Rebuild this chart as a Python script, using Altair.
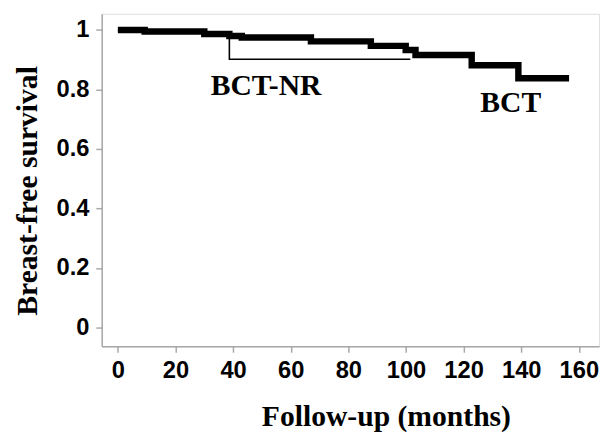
import altair as alt
import pandas as pd

# BCT (thick) Kaplan-Meier curve
bct_months = [0, 9.3, 30, 38.7, 43, 67, 87.8, 99.9, 103.3, 122.8, 139, 156.6]
bct_surv = [1.0, 0.995, 0.987, 0.980, 0.975, 0.962, 0.947, 0.933, 0.916, 0.882, 0.838, 0.838]

# BCT-NR (thin) curve
nr_months = [0, 9.3, 30, 38.7, 101.5]
nr_surv = [1.0, 0.995, 0.987, 0.902, 0.902]

# curve labels
label_text = ["BCT-NR", "BCT"]
label_month = [32.2, 125.8]
label_surv = [0.782, 0.726]

x_ticks = [0, 10, 20, 30, 40, 50, 60, 70, 80, 90, 100, 110, 120, 130, 140, 150, 160]
y_ticks = [0, 0.1, 0.2, 0.3, 0.4, 0.5, 0.6, 0.7, 0.8, 0.9, 1.0]

bct = pd.DataFrame({"month": bct_months, "surv": bct_surv})
nr = pd.DataFrame({"month": nr_months, "surv": nr_surv})
labels = pd.DataFrame({"label": label_text, "month": label_month, "surv": label_surv})

GRAY = "#a8a8a8"
LABEL_FONT = "Liberation Sans"
TITLE_FONT = "Liberation Serif"

x_axis = alt.Axis(
    values=x_ticks,
    labelExpr="datum.value % 20 === 0 ? datum.label : ''",
    format="d",
    tickSize={"condition": {"test": "datum.value % 20 === 0", "value": 6}, "value": 3},
    tickColor=GRAY,
    tickWidth=1.5,
    domainColor=GRAY,
    domainWidth=1.5,
    labelFont=LABEL_FONT,
    labelFontSize=24,
    labelFontWeight="bold",
    labelColor="black",
    labelPadding=7,
    labelFlush=False,
    labelOverlap=False,
    grid=False,
    title="Follow-up (months)",
    titleFont=TITLE_FONT,
    titleFontSize=30,
    titleFontWeight="bold",
    titleColor="black",
    titleX=288,
    titleY=80,
    titleAlign="center",
    titleBaseline="alphabetic",
)

y_axis = alt.Axis(
    values=y_ticks,
    labelExpr="round(datum.value * 10) % 2 === 0 ? datum.label : ''",
    format="~g",
    tickSize={"condition": {"test": "round(datum.value * 10) % 2 === 0", "value": 6}, "value": 3},
    tickColor=GRAY,
    tickWidth=1.5,
    domainColor=GRAY,
    domainWidth=1.5,
    labelFont=LABEL_FONT,
    labelFontSize=24,
    labelFontWeight="bold",
    labelColor="black",
    labelPadding=7,
    labelFlush=False,
    labelOverlap=False,
    grid=False,
    title="Breast-free survival",
    titleFont=TITLE_FONT,
    titleFontSize=30,
    titleFontWeight="bold",
    titleColor="black",
    titleAngle=270,
    titleX=-66,
    titleY=179,
    titleAlign="center",
    titleBaseline="alphabetic",
)

x_scale = alt.Scale(domain=[-5.6, 167], nice=False, zero=False)
y_scale = alt.Scale(domain=[-0.063, 1.0547], nice=False, zero=False)

thick = alt.Chart(bct).mark_line(
    interpolate="step-after", color="black", strokeWidth=6.5,
    strokeCap="butt", strokeJoin="miter"
).encode(
    x=alt.X("month:Q", scale=x_scale, axis=x_axis),
    y=alt.Y("surv:Q", scale=y_scale, axis=y_axis),
)

thin = alt.Chart(nr).mark_line(
    interpolate="step-after", color="black", strokeWidth=1.6,
    strokeCap="butt", strokeJoin="miter"
).encode(
    x=alt.X("month:Q", scale=x_scale),
    y=alt.Y("surv:Q", scale=y_scale),
)

text = alt.Chart(labels).mark_text(
    font=TITLE_FONT, fontSize=30, fontWeight="bold", color="black",
    align="left", baseline="alphabetic"
).encode(
    x=alt.X("month:Q", scale=x_scale),
    y=alt.Y("surv:Q", scale=y_scale),
    text="label:N",
)

chart = alt.layer(thin, thick, text).properties(
    width=504,
    height=337,
    autosize=alt.AutoSizeParams(type="none"),
    padding={"left": 95, "top": 3, "right": 3, "bottom": 86},
).configure_view(
    stroke=GRAY, strokeWidth=1.5
).configure(background="white")

chart.save("out.html", embed_options={"renderer": "svg", "actions": False})
